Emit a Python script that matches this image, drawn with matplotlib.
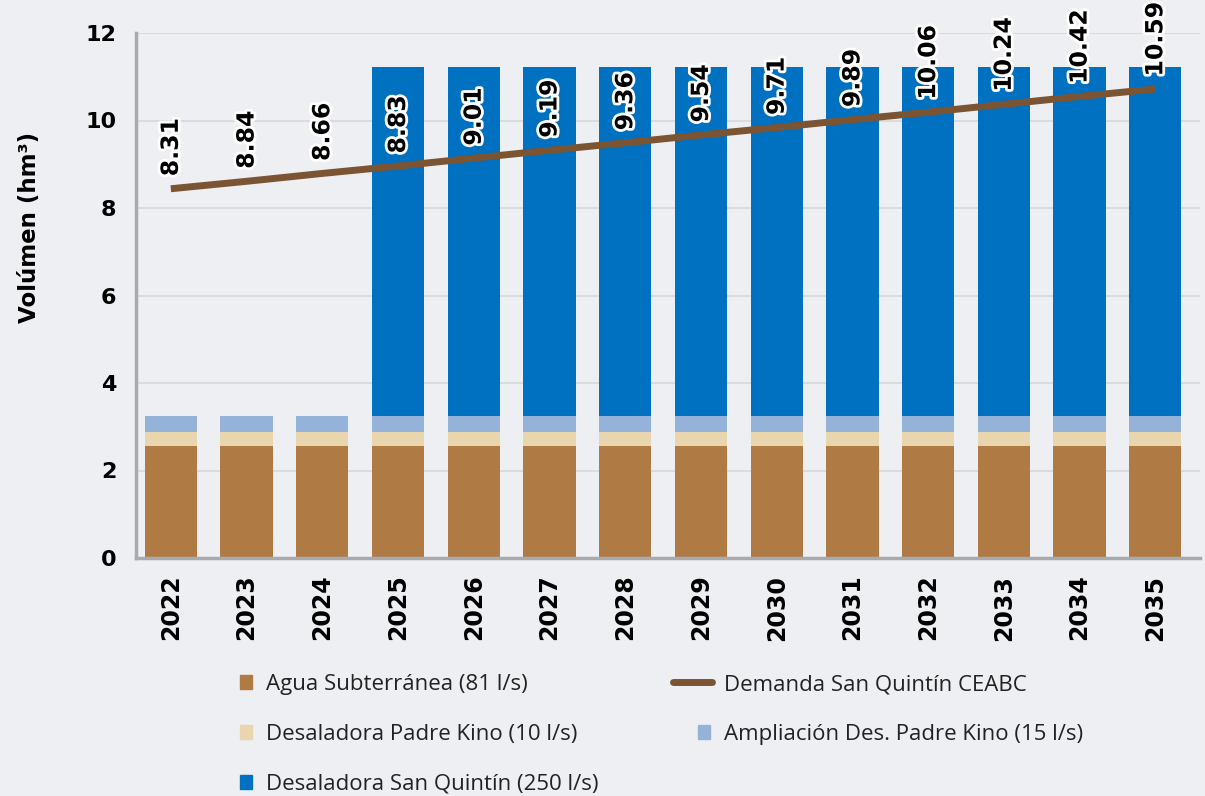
import matplotlib
matplotlib.use("Agg")
import matplotlib.pyplot as plt
import numpy as np
from matplotlib.patches import Patch
from matplotlib.lines import Line2D
from matplotlib.legend_handler import HandlerBase
import matplotlib.patheffects as pe

# ---- data ----
years = ["2022", "2023", "2024", "2025", "2026", "2027", "2028",
         "2029", "2030", "2031", "2032", "2033", "2034", "2035"]
agua_sub = [2.57] * 14
des_padre_kino = [0.32] * 14
ampl_padre_kino = [0.36] * 14
des_san_quintin = [0, 0, 0, 7.97, 7.97, 7.97, 7.97, 7.97, 7.97, 7.97, 7.97, 7.97, 7.97, 7.97]
demanda = [8.44, 8.61, 8.79, 8.96, 9.14, 9.32, 9.49, 9.67, 9.84, 10.02, 10.19, 10.37, 10.55, 10.72]
demanda_labels = ["8.31", "8.84", "8.66", "8.83", "9.01", "9.19", "9.36",
                  "9.54", "9.71", "9.89", "10.06", "10.24", "10.42", "10.59"]

c_agua = "#B07A45"
c_dpk = "#E9D6AE"
c_apk = "#95B3D8"
c_dsq = "#0070C0"
c_line = "#7A5433"
bg = "#EEEFF2"

fig = plt.figure(figsize=(12.05, 7.96), dpi=100, facecolor=bg)
ax = fig.add_axes([136 / 1205, 1 - 558 / 796, (1200 - 136) / 1205, (558 - 33) / 796])
ax.set_facecolor(bg)

x = np.arange(len(years))
w = 0.69
b1 = np.array(agua_sub)
b2 = b1 + np.array(des_padre_kino)
b3 = b2 + np.array(ampl_padre_kino)
ax.bar(x, agua_sub, w, color=c_agua, zorder=2)
ax.bar(x, des_padre_kino, w, bottom=b1, color=c_dpk, zorder=2)
ax.bar(x, ampl_padre_kino, w, bottom=b2, color=c_apk, zorder=2)
ax.bar(x, des_san_quintin, w, bottom=b3, color=c_dsq, zorder=2)
ax.plot(x, demanda, color=c_line, lw=5, zorder=3, solid_capstyle="butt")

for xi, yi, lab in zip(x, demanda, demanda_labels):
    ax.annotate(lab, (xi, yi), xytext=(0, 9), textcoords="offset points",
                rotation=90, ha="center", va="bottom", fontsize=17,
                fontweight="bold", color="black", family="DejaVu Sans",
                path_effects=[pe.withStroke(linewidth=4, foreground="white")],
                zorder=4)

ax.set_xlim(-0.46, 13.59)
ax.set_ylim(0, 12)
ax.set_yticks([0, 2, 4, 6, 8, 10, 12])
ax.set_xticks(x)
ax.set_xticklabels(years, rotation=90, fontsize=17, fontweight="bold")
ax.tick_params(axis="y", labelsize=16, length=0, pad=14)
ax.tick_params(axis="x", length=0, pad=12)
for t in ax.get_yticklabels():
    t.set_fontweight("bold")
ax.grid(axis="y", color="#D6D7DA", lw=1.2, zorder=0)
ax.set_axisbelow(True)
for s in ["top", "right"]:
    ax.spines[s].set_visible(False)
for s in ["left", "bottom"]:
    ax.spines[s].set_color("#A9AAAD")
    ax.spines[s].set_linewidth(2.5)
ax.set_ylabel("Volúmen (hm³)", fontsize=16.5, fontweight="bold")
ax.yaxis.set_label_coords(-95 / 1064, 0.629)


class LongLine(HandlerBase):
    def create_artists(self, legend, orig_handle, xdescent, ydescent, width,
                       height, fontsize, trans):
        y = height / 2 - ydescent
        l = Line2D([-xdescent - 18, width - xdescent + 1], [y, y],
                   color=c_line, lw=5, solid_capstyle="round")
        l.set_transform(trans)
        return [l]


lkw = dict(frameon=False, handlelength=0.55, handleheight=0.55,
           handletextpad=0.6, labelspacing=1.3, borderpad=0, borderaxespad=0,
           loc="upper left", prop={"family": "Open Sans", "size": 16})
top = 1 - 674 / 796
leg1 = fig.legend([Patch(color=c_agua), Patch(color=c_dpk), Patch(color=c_dsq)],
                  ["Agua Subterránea (81 l/s)", "Desaladora Padre Kino (10 l/s)",
                   "Desaladora San Quintín (250 l/s)"],
                  bbox_to_anchor=(240 / 1205, top), **lkw)
leg2 = fig.legend([Line2D([], []), Patch(color=c_apk)],
                  ["Demanda San Quintín CEABC", "Ampliación Des. Padre Kino (15 l/s)"],
                  bbox_to_anchor=(698 / 1205, top), handler_map={Line2D: LongLine()},
                  **lkw)
for leg in (leg1, leg2):
    for t in leg.get_texts():
        t.set_color("#222222")

fig.savefig("out.png", dpi=100, facecolor=bg)
